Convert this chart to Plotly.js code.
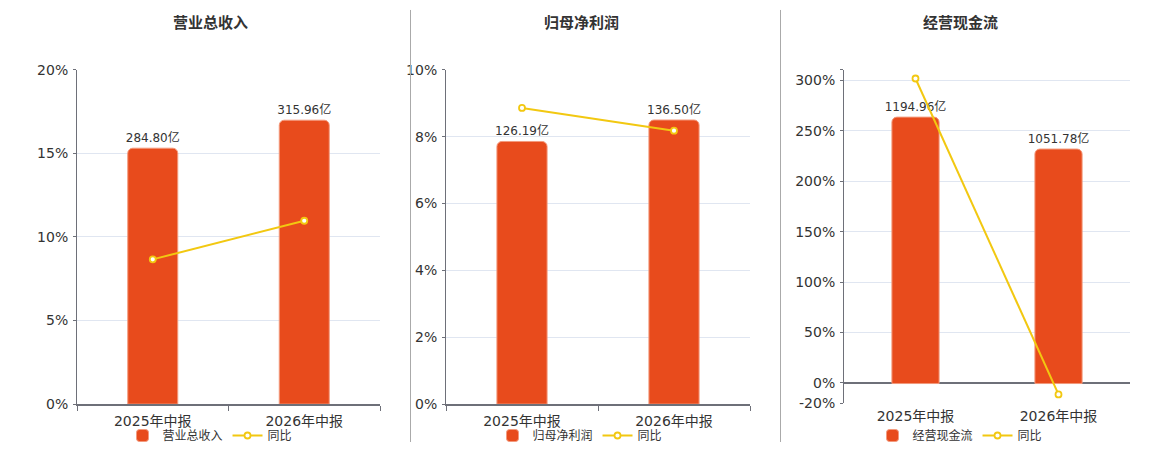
<!DOCTYPE html>
<html>
<head>
<meta charset="utf-8">
<script src="https://cdn.plot.ly/plotly-3.0.1.min.js"></script>
<style>
  html, body { margin: 0; padding: 0; background: #fff; }
  #chart { width: 1160px; height: 450px; }
</style>
</head>
<body>
<div id="chart"></div>
<script>
// data
const periods = ["2025年中报", "2026年中报"];

const revenue = [284.80, 315.96];      // 亿
const revenueYoy = [8.66, 10.97];      // %
const netProfit = [126.19, 136.50];
const netProfitYoy = [8.86, 8.18];
const cashFlow = [1194.96, 1051.78];
const cashFlowYoy = [302, -11.4];

const panelTitles = ["营业总收入", "归母净利润", "经营现金流"];
const lineName = "同比";

const barColor = "#e84b1c";
const lineColor = "#f2c811";
const gridColor = "#e0e6f1";
const axisColor = "#6e7079";
const textColor = "#333";
const font = "DejaVu Sans, Noto Sans CJK SC, sans-serif";

const W = 1160, H = 450;
const px = (x) => x / W;
const py = (y) => 1 - y / H;

// bar value -> hidden axis, % -> visible axis on the left (overlaid, so the line sits on top)
function barTrace(name, values, xa, ya, legend) {
  return {
    type: "bar",
    name: name,
    x: periods,
    y: values,
    xaxis: xa,
    yaxis: ya,
    legend: legend,
    marker: { color: barColor, cornerradius: 5, line: { color: "#f39a7d", width: 1 } },
    texttemplate: "%{y:.2f}亿",
    textposition: "outside",
    constraintext: "none",
    textfont: { size: 12, color: textColor, family: font },
    cliponaxis: false,
    hoverinfo: "skip",
  };
}

function lineTrace(values, xa, ya, legend) {
  return {
    type: "scatter",
    mode: "lines+markers",
    name: lineName,
    x: periods,
    y: values,
    xaxis: xa,
    yaxis: ya,
    legend: legend,
    line: { color: lineColor, width: 2 },
    marker: { size: 6, color: "#fff", line: { color: lineColor, width: 1.8 } },
    cliponaxis: false,
    hoverinfo: "skip",
  };
}

const data = [
  barTrace(panelTitles[0], revenue, "x", "y", "legend"),
  lineTrace(revenueYoy, "x", "y2", "legend"),
  barTrace(panelTitles[1], netProfit, "x2", "y3", "legend2"),
  lineTrace(netProfitYoy, "x2", "y4", "legend2"),
  barTrace(panelTitles[2], cashFlow, "x3", "y5", "legend3"),
  lineTrace(cashFlowYoy, "x3", "y6", "legend3"),
];

function xAxis(domain, anchor, showline) {
  return {
    domain: domain,
    anchor: anchor,
    type: "category",
    showline: showline,
    linecolor: axisColor,
    linewidth: 2,
    ticks: showline ? "outside" : "",
    tickson: "boundaries",
    ticklen: 5,
    tickcolor: axisColor,
    ticklabelstandoff: 3,
    showgrid: false,
    tickfont: { size: 14, color: textColor, family: font },
    fixedrange: true,
  };
}

function hiddenAxis(domain, range) {
  return { domain: domain, range: range, visible: false, fixedrange: true };
}

function pctAxis(overlay, anchor, range, extra) {
  return Object.assign({
    overlaying: overlay,
    anchor: anchor,
    side: "left",
    range: range,
    ticksuffix: "%",
    showline: true,
    linecolor: axisColor,
    linewidth: 1,
    ticks: "outside",
    ticklen: 3,
    tickcolor: axisColor,
    ticklabelstandoff: 2,
    showgrid: true,
    gridcolor: gridColor,
    zeroline: false,
    tickfont: { size: 14, color: textColor, family: font },
    fixedrange: true,
  }, extra || {});
}

const yDom = [py(405), py(70)];
const yDom3 = [py(404), py(70)];

function legendAt(cx) {
  return {
    orientation: "h",
    x: px(cx),
    xanchor: "center",
    y: py(436),
    yanchor: "middle",
    font: { size: 12, color: textColor, family: font },
    bgcolor: "rgba(0,0,0,0)",
    itemclick: false,
  };
}

function titleAt(text, cx) {
  return {
    text: "<b>" + text + "</b>",
    xref: "paper",
    yref: "paper",
    x: px(cx),
    y: py(23),
    xanchor: "center",
    yanchor: "middle",
    showarrow: false,
    font: { size: 15, color: textColor, family: font },
  };
}

function separator(x) {
  return {
    type: "line",
    xref: "paper",
    yref: "paper",
    x0: px(x), x1: px(x),
    y0: py(10), y1: py(443),
    line: { color: "#aaa", width: 1 },
  };
}

const layout = {
  width: W,
  height: H,
  margin: { l: 0, r: 0, t: 0, b: 0 },
  paper_bgcolor: "#fff",
  plot_bgcolor: "#fff",
  bargap: 0.67,
  font: { family: font, color: textColor },

  xaxis: xAxis([px(77), px(380)], "y", true),
  yaxis: hiddenAxis(yDom, [0, 372]),
  yaxis2: pctAxis("y", "x", [0, 20], { dtick: 5 }),

  xaxis2: xAxis([px(446), px(750)], "y3", true),
  yaxis3: hiddenAxis(yDom, [0, 160.6]),
  yaxis4: pctAxis("y3", "x2", [0, 10], { dtick: 2 }),

  xaxis3: xAxis([px(844), px(1130)], "y5", false),
  yaxis5: hiddenAxis(yDom3, [-87.7, 1407]),
  yaxis6: pctAxis("y5", "x3", [-20, 310.6], {
    tickmode: "array",
    tickvals: [-20, 0, 50, 100, 150, 200, 250, 300, 310.6],
    ticktext: ["-20%", "0%", "50%", "100%", "150%", "200%", "250%", "300%", ""],
    ticksuffix: "",
    zeroline: true,
    zerolinecolor: axisColor,
    zerolinewidth: 2,
  }),

  legend: legendAt(210),
  legend2: legendAt(580),
  legend3: legendAt(960),

  annotations: [
    titleAt(panelTitles[0], 210),
    titleAt(panelTitles[1], 581),
    titleAt(panelTitles[2], 960),
  ],
  shapes: [separator(410.5), separator(780.5)],
};

Plotly.newPlot("chart", data, layout, { displayModeBar: false, staticPlot: true });
</script>
</body>
</html>
